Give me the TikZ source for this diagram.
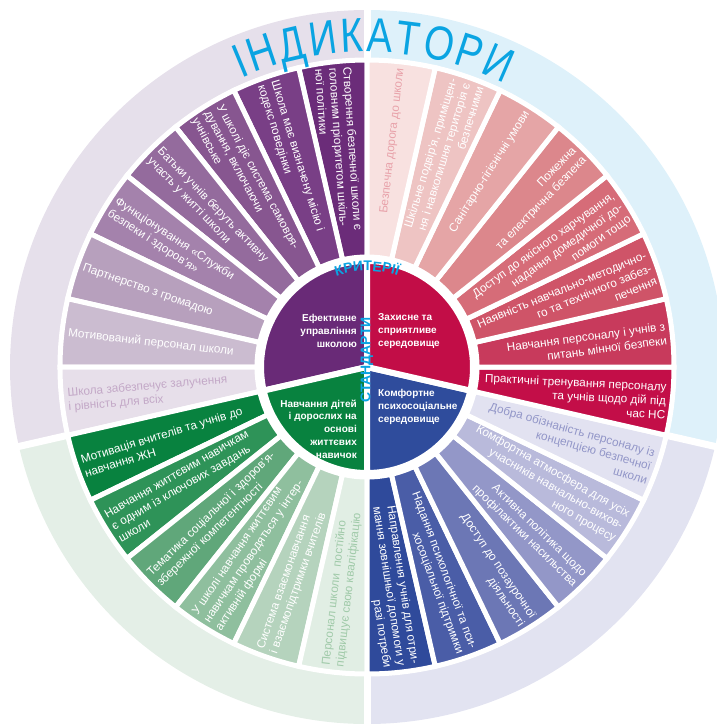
\documentclass[tikz,border=0pt]{standalone}
\usepackage{fontspec}
\setmainfont{Liberation Sans}
\newfontfamily\indfam{Liberation Sans}[FakeStretch=0.8]
\usetikzlibrary{decorations.text}
% ring backgrounds
\definecolor{ringTL}{HTML}{E6E0EB}
\definecolor{ringTR}{HTML}{DEF1FA}
\definecolor{ringBL}{HTML}{E4EFE7}
\definecolor{ringBR}{HTML}{E2E3F1}
% inner
\definecolor{innP}{HTML}{692A77}
\definecolor{innR}{HTML}{C20D47}
\definecolor{innB}{HTML}{2F4C9C}
\definecolor{innG}{HTML}{08823F}
% purple
\definecolor{p1}{HTML}{6B2C79}
\definecolor{p2}{HTML}{793F86}
\definecolor{p3}{HTML}{875690}
\definecolor{p4}{HTML}{946B9D}
\definecolor{p5}{HTML}{A482AC}
\definecolor{p6}{HTML}{B7A0BD}
\definecolor{p7}{HTML}{CBBCD0}
\definecolor{p8}{HTML}{E7DFEA}
\definecolor{p8t}{HTML}{C3A8C7}
% red
\definecolor{r1}{HTML}{F8E1E0}
\definecolor{r1t}{HTML}{E8A2AA}
\definecolor{r2}{HTML}{EEC4C3}
\definecolor{r3}{HTML}{E5A5A6}
\definecolor{r4}{HTML}{DC878C}
\definecolor{r5}{HTML}{D66C78}
\definecolor{r6}{HTML}{CF5468}
\definecolor{r7}{HTML}{C83A5C}
\definecolor{r8}{HTML}{C30E48}
% blue
\definecolor{b1}{HTML}{E2E2F1}
\definecolor{b1t}{HTML}{9296C8}
\definecolor{b2}{HTML}{B9BADB}
\definecolor{b3}{HTML}{9397C8}
\definecolor{b4}{HTML}{6C77B5}
\definecolor{b5}{HTML}{4A5DA7}
\definecolor{b6}{HTML}{2F4A9B}
% green
\definecolor{g1}{HTML}{08823F}
\definecolor{g2}{HTML}{2E9358}
\definecolor{g3}{HTML}{60A77A}
\definecolor{g4}{HTML}{8FBF9E}
\definecolor{g5}{HTML}{B5D3BD}
\definecolor{g6}{HTML}{E1EEE4}
\definecolor{g6t}{HTML}{A0CAA9}
\definecolor{cyanT}{HTML}{0AA4E2}

\tikzset{
  segtext/.style={font=\fontsize{11.8}{14}\selectfont, inner sep=0pt},
  centerlabel/.style={font=\bfseries\fontsize{10}{12.8}\selectfont, text=white, inner sep=0pt},
  gapline/.style={white, line width=7pt}
}

% segment shape: index, fill colour
\newcommand\segshape[2]{%
  \pgfmathsetmacro\segA{90+#1*360/28}%
  \pgfmathsetmacro\segB{\segA+360/28}%
  \path[fill=#2, draw=white, line width=5pt]
    (\segA:110pt) -- (\segA:307pt)
    arc[start angle=\segA, end angle=\segB, radius=307pt]
    -- (\segB:110pt)
    arc[start angle=\segB, end angle=\segA, radius=110pt] -- cycle;}

% segment text: index, text colour, tilt, text, name
\newcommand\segtext[5]{%
  \pgfmathsetmacro\segM{90+#1*360/28+180/28}%
  \ifnum#1<14
    \pgfmathsetmacro\segR{\segM+180-#3}%
    \node[segtext, text=#2, anchor=west, align=left, rotate=\segR] (#5) at (\segM:301pt) {#4};
  \else
    \pgfmathsetmacro\segR{\segM+#3}%
    \node[segtext, text=#2, anchor=east, align=right, rotate=\segR] (#5) at (\segM:301pt) {#4};
  \fi}

\begin{document}
\begin{tikzpicture}[x=1pt,y=1pt]
\useasboundingbox (0,0) rectangle (717,-724);
\begin{scope}[shift={(367,-367)}]
  % outer ring
  \fill[ringTL] (0,0) -- (90:357pt) arc[start angle=90, end angle=192.857, radius=357pt] -- cycle;
  \fill[ringBL] (0,0) -- (192.857:357pt) arc[start angle=192.857, end angle=270, radius=357pt] -- cycle;
  \fill[ringBR] (0,0) -- (270:357pt) arc[start angle=270, end angle=347.143, radius=357pt] -- cycle;
  \fill[ringTR] (0,0) -- (-12.857:357pt) arc[start angle=-12.857, end angle=90, radius=357pt] -- cycle;
  \foreach \a in {90,192.857,270,347.143} \draw[gapline] (0,0) -- (\a:365pt);
  \fill[white] (0,0) circle[radius=309pt];

  % segment shapes
  \segshape{0}{p1}\segshape{1}{p2}\segshape{2}{p3}\segshape{3}{p4}
  \segshape{4}{p5}\segshape{5}{p6}\segshape{6}{p7}\segshape{7}{p8}
  \segshape{8}{g1}\segshape{9}{g2}\segshape{10}{g3}\segshape{11}{g4}
  \segshape{12}{g5}\segshape{13}{g6}
  \segshape{14}{b6}\segshape{15}{b5}\segshape{16}{b4}\segshape{17}{b3}
  \segshape{18}{b2}\segshape{19}{b1}
  \segshape{20}{r8}\segshape{21}{r7}\segshape{22}{r6}\segshape{23}{r5}
  \segshape{24}{r4}\segshape{25}{r3}\segshape{26}{r2}\segshape{27}{r1}

  % inner circle
  \path[fill=innP, draw=white, line width=6pt] (0,0) -- (90:106pt) arc[start angle=90, end angle=192.857, radius=106pt] -- cycle;
  \path[fill=innG, draw=white, line width=6pt] (0,0) -- (192.857:106pt) arc[start angle=192.857, end angle=270, radius=106pt] -- cycle;
  \path[fill=innB, draw=white, line width=6pt] (0,0) -- (270:106pt) arc[start angle=270, end angle=347.143, radius=106pt] -- cycle;
  \path[fill=innR, draw=white, line width=6pt] (0,0) -- (-12.857:106pt) arc[start angle=-12.857, end angle=90, radius=106pt] -- cycle;

  % segment texts
  \segtext{0}{white}{2.5}{Створення безпечної школи є\\головним пріоритетом шкіль-\\ної політики}{tl1}
  \segtext{1}{white}{2.3}{Школа має визначену місію і\\кодекс поведінки}{tl2}
  \segtext{2}{white}{4}{У школі діє система самовря-\\дування, включаючи\\учнівське}{tl3}
  \segtext{3}{white}{1.2}{Батьки учнів беруть активну\\участь у житті школи}{tl4}
  \segtext{4}{white}{1}{Функціонування «Служби\\безпеки і здоров’я»}{tl5}
  \segtext{5}{white}{0}{Партнерство з громадою}{tl6}
  \segtext{6}{white}{0}{Мотивований персонал школи}{tl7}
  \segtext{7}{p8t}{1.5}{Школа забезпечує залучення\\і рівність для всіх}{tl8}
  \segtext{8}{white}{2.3}{Мотивація вчителів та учнів до\\навчання ЖН}{bl1}
  \segtext{9}{white}{2.2}{Навчання життєвим навичкам\\є одним із ключових завдань\\школи}{bl2}
  \segtext{10}{white}{0.8}{Тематика соціальної і здоров’я-\\збережної компетентності}{bl3}
  \segtext{11}{white}{1.8}{У школі навчання життєвим\\навичкам проводяться у інтер-\\активній формі}{bl4}
  \segtext{12}{white}{0}{Система взаємонавчання\\і взаємопідтримки вчителів}{bl5}
  \segtext{13}{g6t}{0}{Персонал школи\ \ постійно\\підвищує свою кваліфікацію}{bl6}
  \segtext{14}{white}{2.3}{Направлення учнів для отри-\\мання зовнішньої допомоги у\\разі потреби}{br1}
  \segtext{15}{white}{1.1}{Надання психологічної та пси-\\хосоціальної підтримки}{br2}
  \segtext{16}{white}{2}{Доступ до позаурочної\\діяльності}{br3}
  \segtext{17}{white}{1}{Активна політика щодо\\профілактики насильства}{br4}
  \segtext{18}{white}{2.5}{Комфортна атмосфера для усіх\\учасників навчально-вихов-\\ного процесу}{br5}
  \segtext{19}{b1t}{3.5}{Добра обізнаність персоналу із\\концепцією безпечної\\школи}{br6}
  \segtext{20}{white}{3.7}{Практичні тренування персоналу\\та учнів щодо дій під\\час НС}{tr1}
  \segtext{21}{white}{1.2}{Навчання персоналу і учнів з\\питань мінної безпеки}{tr2}
  \segtext{22}{white}{3.2}{Наявність навчально-методично-\\го та технічного забез-\\печення}{tr3}
  \segtext{23}{white}{3.5}{Доступ до якісного харчування,\\надання домедичної до-\\помоги тощо}{tr4}
  \segtext{24}{white}{1}{Пожежна\\та електрична безпека}{tr5}
  \segtext{25}{white}{0}{Санітарно-гігієнічні умови}{tr6}
  \segtext{26}{white}{2.3}{Шкільне подвір’я, приміщен-\\ня і навколишня територія є\\безпечними}{tr7}
  \segtext{27}{r1t}{0}{Безпечна дорога до школи}{tr8}

  % centre labels
  \node[centerlabel, anchor=east, align=right] (cP) at (-10,36) {Ефективне\\управління\\школою};
  \node[centerlabel, anchor=west, align=left] (cR) at (11,36) {Захисне та\\сприятливе\\середовище};
  \node[centerlabel, anchor=west, align=left] (cB) at (11,-40) {Комфортне\\психосоціальне\\середовище};
  \node[centerlabel, anchor=east, align=right] (cG) at (-10,-62) {Навчання дітей\\і дорослих на\\основі\\життєвих\\навичок};

  % titles
  \node[font=\bfseries\fontsize{14}{14}\selectfont, text=cyanT, rotate=90, inner sep=0pt] (stand) at (0,7) {СТАНДАРТИ};
  \path[decorate, decoration={text along path, text={|\bfseries\fontsize{14}{14}\selectfont|КРИТЕРІЇ}, text align=center, text color=cyanT}]
    (125:96pt) arc[start angle=125, end angle=55, radius=96pt];
  \path[decorate, decoration={text along path, text={|\indfam\fontsize{48}{48}\selectfont|ІНДИКАТОРИ}, text align={fit to path}, text color=cyanT}]
    (113.5:315pt) arc[start angle=113.5, end angle=64, radius=315pt];
\end{scope}
\end{tikzpicture}
\end{document}
